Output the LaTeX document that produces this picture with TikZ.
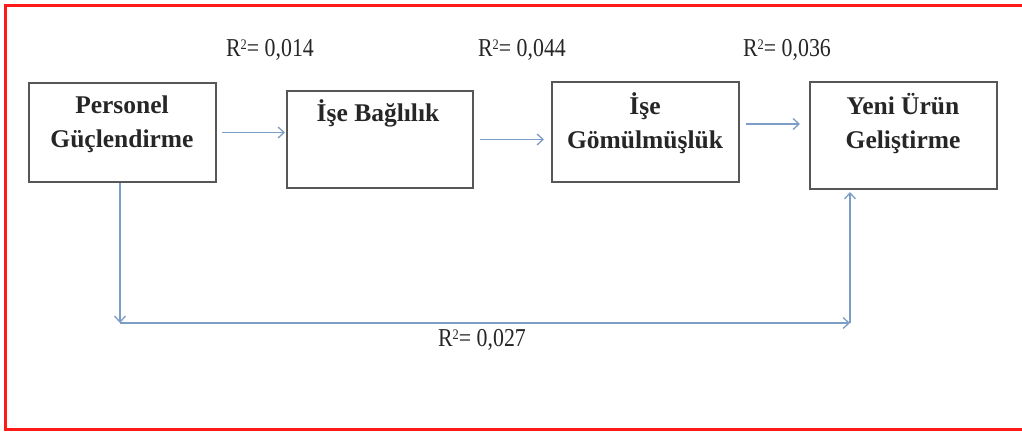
\documentclass[tikz,border=0pt]{standalone}
\usepackage{fontspec}
\setmainfont{Liberation Serif}
\usetikzlibrary{arrows.meta,calc}
\definecolor{framered}{HTML}{FF1A1A}
\definecolor{boxgray}{HTML}{575757}
\definecolor{linkblue}{HTML}{7C9DC6}
\definecolor{inkdark}{HTML}{262626}
% R squared value, set slightly condensed
\newcommand{\rsq}[1]{\scalebox{0.95}[1.12]{R\raisebox{0.62ex}{\fontsize{13}{13}\selectfont 2}= #1}}
\begin{document}
\begin{tikzpicture}[x=1pt,y=-1pt,
  box/.style={draw=boxgray,line width=2pt,rectangle,inner sep=0pt},
  boxtext/.style={anchor=north,align=center,text=inkdark,inner sep=0pt,
    font=\fontsize{25.5}{34}\selectfont\bfseries},
  rlabel/.style={text=inkdark,inner sep=0pt,font=\fontsize{23}{26}\selectfont},
  link/.style={draw=linkblue,line width=1.5pt,
    -{Straight Barb[length=6pt,width=11pt,line width=1.3pt]}}]
\useasboundingbox (0,0) rectangle (1022,433);
% outer frame (open on the right)
\draw[framered,line width=3pt] (1024,6) -- (5,6) -- (5,429) -- (1024,429);

% boxes
\node[box,minimum width=187,minimum height=99] (b1) at (122.5,132.5) {};
\node[box,minimum width=186,minimum height=97] (b2) at (380,139.5) {};
\node[box,minimum width=187,minimum height=100] (b3) at (645.5,132) {};
\node[box,minimum width=187,minimum height=107] (b4) at (903.5,135.5) {};

% box captions
\node[boxtext] (t1) at (122,96) {Personel\\Güçlendirme};
\node[boxtext] (t2) at (378,99) {İşe Bağlılık};
\node[boxtext] (t3) at (645,92) {İşe\\Gömülmüşlük};
\node[boxtext] (t4) at (903,93) {Yeni Ürün\\Geliştirme};

% coefficient labels
\node[rlabel] (r1) at (270,50) {\rsq{0,014}};
\node[rlabel] (r2) at (522,50) {\rsq{0,044}};
\node[rlabel] (r3) at (787,50) {\rsq{0,036}};
\node[rlabel] (r4) at (482,340) {\rsq{0,027}};

% forward links
\draw[link] ($(b1.east)+(5,0)$) -- ($(b2.west |- b1.east)+(-1,0)$);
\draw[link] ($(b2.east)+(6,0)$) -- ($(b3.west |- b2.east)+(-7,0)$);
\draw[link] ($(b3.east)+(6,-8)$) -- ($(b4.west)+(-9,-11.5)$);

% lower path
\coordinate (c1) at (120,323);
\coordinate (c2) at (850,323);
\draw[link] (b1.south -| c1) -- (c1);
\draw[link] (c1) -- (c2);
\draw[link] (c2) -- ($(b4.south -| c2)+(0,2)$);
\end{tikzpicture}
\end{document}
